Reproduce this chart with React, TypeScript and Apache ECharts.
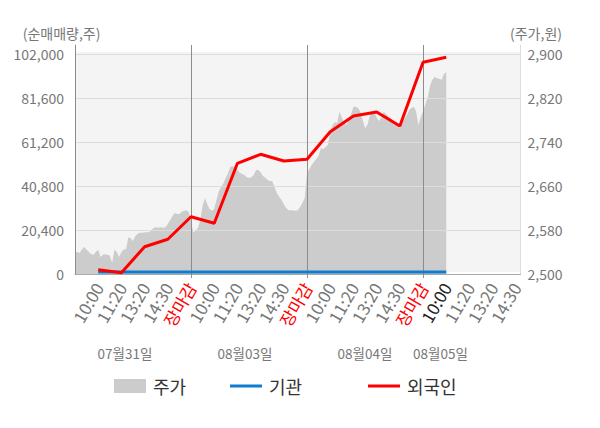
import React, { useEffect, useRef } from "react";
import * as echarts from "echarts";

// ---- data -------------------------------------------------------------
const TIME_LABELS = ["10:00", "11:20", "13:20", "14:30", "장마감"];
const DATE_LABELS = ["07월31일", "08월03일", "08월04일", "08월05일"];
const LEGEND_NAMES = ["주가", "기관", "외국인"];

// 주가 (price, right axis) sampled 10 points per time slot
const PRICE = [
  2540, 2540, 2538, 2545, 2549, 2544, 2540, 2536, 2535, 2540,
  2544, 2531, 2535, 2536, 2535, 2533, 2520, 2544, 2540, 2531,
  2540, 2545, 2545, 2567, 2565, 2560, 2569, 2573, 2575, 2575,
  2576, 2576, 2576, 2580, 2584, 2585, 2584, 2585, 2584, 2585,
  2591, 2598, 2605, 2611, 2609, 2609, 2613, 2615, 2616, 2613,
  2595, 2576, 2578, 2584, 2598, 2625, 2638, 2627, 2618, 2615,
  2618, 2635, 2651, 2658, 2665, 2675, 2684, 2695, 2696, 2693,
  2689, 2684, 2682, 2680, 2676, 2675, 2676, 2680, 2689, 2689,
  2685, 2678, 2675, 2671, 2669, 2669, 2658, 2647, 2640, 2635,
  2627, 2620, 2616, 2616, 2616, 2615, 2616, 2622, 2629, 2638,
  2684, 2691, 2698, 2704, 2709, 2715, 2729, 2727, 2731, 2735,
  2758, 2771, 2776, 2775, 2795, 2784, 2775, 2771, 2780, 2791,
  2804, 2804, 2802, 2795, 2780, 2765, 2771, 2787, 2795, 2795,
  2784, 2778, 2784, 2795, 2791, 2787, 2784, 2778, 2775, 2769,
  2765, 2775, 2782, 2789, 2798, 2802, 2804, 2796, 2771, 2785,
  2796, 2809, 2820, 2842, 2853, 2858, 2856, 2855, 2853, 2864,
  2867,
];

// 순매매량 at each labelled time (10:00 of day 1 ... 10:00 of day 4)
const FOREIGN = [
  2000, 600, 12650, 16090, 26560,
  23500, 51320, 55490, 52390, 53170,
  65970, 73250, 75100, 68610, 98150,
  100460,
];
const INSTITUTION = [
  900, 900, 900, 900, 900,
  900, 900, 900, 900, 900,
  900, 900, 900, 900, 900,
  900,
];

const LEFT_MIN = 0;
const LEFT_INTERVAL = 20400;
const LEFT_TOP = 102000;
const RIGHT_MIN = 2500;
const RIGHT_INTERVAL = 80;
const RIGHT_TOP = 2900;

// ---- layout helpers ---------------------------------------------------
const POINTS_PER_SLOT = 10;
const SLOTS_PER_DAY = 5;
const TOTAL_CATEGORIES = 193;
const FONT = "'Noto Sans CJK KR', 'Noto Sans', sans-serif";
const HEADROOM = 229 / 220; // axis extends a little above the top tick

const categories = Array.from({ length: TOTAL_CATEGORIES }, (_, i) => String(i));
const POINTS_PER_DAY = POINTS_PER_SLOT * SLOTS_PER_DAY;
const currentIndex = PRICE.length - 1;

function labelAt(index: number): string {
  if (index === 0 || index % POINTS_PER_SLOT !== 0) return "";
  return TIME_LABELS[(index / POINTS_PER_SLOT - 1) % SLOTS_PER_DAY];
}

const foreignData = FOREIGN.map((v, k) => [(k + 1) * POINTS_PER_SLOT, v]);
const institutionData = INSTITUTION.map((v, k) => [(k + 1) * POINTS_PER_SLOT, v]);

const fmt = (v: number) => v.toLocaleString("en-US");

const legendBase = {
  top: 372,
  itemWidth: 32,
  selectedMode: false,
  textStyle: { fontSize: 18, color: "#333333", fontFamily: FONT, padding: [0, 0, 0, 2] },
};

export default function App() {
  const ref = useRef<HTMLDivElement>(null);

  useEffect(() => {
    document.body.style.margin = "0";
    if (!ref.current) return;
    const chart = echarts.init(ref.current, undefined, { renderer: "svg" });

    const dateX = [125, 245, 365, 440.5];

    const option: any = {
      animation: false,
      grid: { left: 75, right: 79.5, top: 45, bottom: 154 },
      xAxis: {
        type: "category",
        data: categories,
        boundaryGap: false,
        z: 3,
        axisLine: { show: true, lineStyle: { color: "#aaaaaa", width: 1 } },
        axisTick: {
          show: true,
          length: 4,
          interval: (i: number) => i > 0 && i % POINTS_PER_DAY === 0,
          lineStyle: { color: "#8c8c8c" },
        },
        splitLine: {
          show: true,
          interval: (i: number) => i > 0 && i % POINTS_PER_DAY === 0,
          lineStyle: { color: "#8c8c8c", width: 1 },
        },
        axisLabel: {
          interval: (i: number) => labelAt(i) !== "",
          rotate: 60,
          margin: 10,
          color: "#777777",
          fontSize: 17,
          fontFamily: FONT,
          formatter: (_v: string, i: number) => {
            const l = labelAt(i);
            if (i === currentIndex) return `{k|${l}}`;
            if (l === "장마감") return `{r|${l}}`;
            return l;
          },
          rich: {
            r: { color: "#ff0000", fontSize: 17, fontFamily: FONT },
            k: { color: "#222222", fontSize: 17, fontFamily: FONT },
          },
        },
      },
      yAxis: [
        {
          type: "value",
          min: LEFT_MIN,
          max: LEFT_TOP * HEADROOM,
          interval: LEFT_INTERVAL,
          z: 3,
          axisLine: { show: true, lineStyle: { color: "#8c8c8c" } },
          axisTick: { show: false },
          splitLine: {
            show: true,
            showMaxLine: false,
            showMinLine: false,
            lineStyle: { color: "#dddddd", width: 1 },
          },
          axisLabel: {
            showMaxLabel: false,
            margin: 11,
            color: "#777777",
            fontSize: 14,
            fontFamily: FONT,
            formatter: (v: number) => fmt(v),
          },
        },
        {
          type: "value",
          position: "right",
          min: RIGHT_MIN,
          max: RIGHT_MIN + (RIGHT_TOP - RIGHT_MIN) * HEADROOM,
          interval: RIGHT_INTERVAL,
          z: 3,
          axisLine: { show: true, lineStyle: { color: "#dddddd" } },
          axisTick: { show: false },
          splitLine: { show: false },
          axisLabel: {
            showMaxLabel: false,
            margin: 7,
            color: "#777777",
            fontSize: 14,
            fontFamily: FONT,
            formatter: (v: number) => fmt(v),
          },
        },
      ],
      legend: [
        { ...legendBase, left: 109, itemHeight: 14, data: [{ name: LEGEND_NAMES[0], icon: "rect" }] },
        { ...legendBase, left: 225, itemHeight: 3, data: [{ name: LEGEND_NAMES[1], icon: "rect" }] },
        { ...legendBase, left: 363, itemHeight: 3, data: [{ name: LEGEND_NAMES[2], icon: "rect" }] },
      ],
      graphic: [
        {
          type: "text",
          x: 22.7,
          y: 33,
          silent: true,
          style: { text: "(순매매량,주)", fill: "#777777", font: `14px ${FONT}`, align: "left", verticalAlign: "middle" },
        },
        {
          type: "text",
          x: 562,
          y: 33,
          silent: true,
          style: { text: "(주가,원)", fill: "#777777", font: `14px ${FONT}`, align: "right", verticalAlign: "middle" },
        },
        ...DATE_LABELS.map((d, k) => ({
          type: "text",
          x: dateX[k],
          y: 353,
          silent: true,
          style: { text: d, fill: "#777777", font: `13.5px ${FONT}`, align: "center", verticalAlign: "middle" },
        })),
      ],
      series: [
        {
          name: "bg",
          type: "line",
          data: [],
          z: 0,
          silent: true,
          markArea: {
            silent: true,
            itemStyle: { color: "#f4f4f4" },
            data: [[{ yAxis: 900 }, { yAxis: 103060 }]],
          },
        },
        {
          name: LEGEND_NAMES[0],
          type: "line",
          yAxisIndex: 1,
          data: PRICE,
          symbol: "none",
          z: 2,
          itemStyle: { color: "#cccccc" },
          lineStyle: { width: 0, color: "#cccccc" },
          areaStyle: { color: "#cccccc", opacity: 1 },
        },
        {
          name: LEGEND_NAMES[1],
          type: "line",
          yAxisIndex: 0,
          data: institutionData,
          symbol: "none",
          z: 5,
          itemStyle: { color: "#0e7dd0" },
          lineStyle: { width: 3, color: "#0e7dd0" },
        },
        {
          name: LEGEND_NAMES[2],
          type: "line",
          yAxisIndex: 0,
          data: foreignData,
          symbol: "none",
          z: 6,
          itemStyle: { color: "#ff0000" },
          lineStyle: { width: 3, color: "#ff0000" },
        },
      ],
    };

    chart.setOption(option);
    return () => chart.dispose();
  }, []);

  return <div ref={ref} style={{ width: 600, height: 428 }} />;
}
